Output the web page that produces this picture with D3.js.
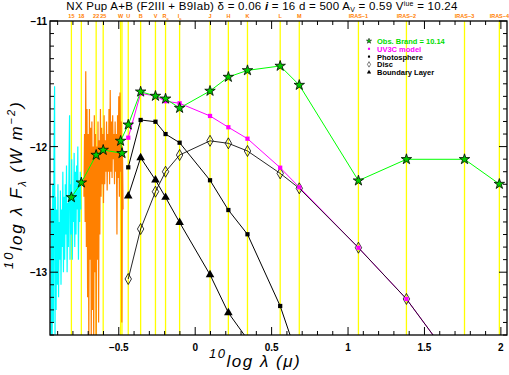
<!DOCTYPE html>
<html lang="en">
<head>
  <meta charset="UTF-8">
  <title>NX Pup SED</title>
  <script src="https://d3js.org/d3.v7.min.js"></script>
  <style>
    body { margin: 0; background: #fff; }
    svg { display: block; }
    text { font-family: "Liberation Sans", Arial, sans-serif; }
  </style>
</head>
<body>
  <svg id="chart" width="509" height="375"></svg>

  <script>
    // photometric bands (log lambda in micron), "" = line without label
    const bandNames = ["15", "18", "22", "25", "W", "", "U", "B", "V", "Rc", "Ic", "J", "H", "K", "L", "M", "IRAS−1", "IRAS−2", "IRAS−3", "IRAS−4"];
    const bandLogL = [-0.810, -0.745, -0.648, -0.602, -0.488, -0.479, -0.438, -0.357, -0.260, -0.194, -0.102, 0.097, 0.217, 0.342, 0.556, 0.681, 1.068, 1.382, 1.762, 1.990];

    // observed photometry (order as connected)
    const obsLogL = [-0.810, -0.745, -0.648, -0.602, -0.479, -0.488, -0.438, -0.357, -0.260, -0.194, -0.102, 0.097, 0.217, 0.342, 0.556, 0.681, 1.068, 1.382, 1.762, 1.990];
    const obsFlux = [-12.404, -12.287, -12.067, -12.027, -12.053, -11.955, -11.826, -11.563, -11.597, -11.619, -11.693, -11.557, -11.446, -11.393, -11.358, -11.510, -12.271, -12.101, -12.101, -12.298];

    // model components
    const modelLogL = [-0.438, -0.357, -0.260, -0.194, -0.102, 0.097, 0.217, 0.342, 0.556, 0.681, 1.068, 1.382, 1.762, 1.990];
    const uv3cFlux = [-11.929, -11.576, -11.597, -11.639, -11.655, -11.756, -11.846, -11.937, -12.168, -12.324, -12.805, -13.213, -13.84, -14.2];
    const discFlux = [-13.054, -12.656, -12.359, -12.200, -12.067, -11.954, -11.974, -12.035, -12.213, -12.332, -12.805, -13.213, -13.84, -14.2];
    const photFlux = [-12.165, -11.788, -11.802, -11.900, -11.969, -12.268, -12.505, -12.698, -13.269, -13.715];
    const blFlux = [-12.393, -12.088, -12.266, -12.404, -12.604, -13.020, -13.323, -13.535];

    // IUE short wavelength spectrum
    const cyanLogL = [-0.944, -0.940, -0.936, -0.932, -0.928, -0.924, -0.920, -0.917, -0.914, -0.910, -0.906, -0.902, -0.898, -0.894, -0.890, -0.886, -0.882, -0.878, -0.874, -0.870, -0.866, -0.862, -0.858, -0.854, -0.850, -0.846, -0.842, -0.838, -0.834, -0.830, -0.826, -0.822, -0.819, -0.816, -0.812, -0.808, -0.804, -0.800, -0.796, -0.792, -0.788, -0.784, -0.780, -0.776, -0.772, -0.768, -0.764, -0.760, -0.756, -0.752, -0.748];
    const cyanFlux = [-13.6, -12.5, -13.6, -12.3, -13.4, -12.1, -11.52, -13.5, -12.4, -13.3, -12.5, -13.1, -12.3, -13.2, -12.6, -12.9, -12.35, -13.1, -12.5, -12.8, -12.2, -13.0, -12.4, -12.9, -12.3, -12.7, -12.15, -13.0, -12.45, -12.8, -12.2, -11.75, -12.9, -12.3, -12.7, -12.1, -12.9, -12.4, -12.6, -12.05, -12.8, -12.2, -12.7, -12.15, -12.5, -12.0, -12.9, -12.3, -12.6, -12.2, -12.5];

    // IUE long wavelength spectrum
    const orangeLogL = [-0.728, -0.724, -0.720, -0.716, -0.712, -0.708, -0.704, -0.700, -0.696, -0.692, -0.688, -0.684, -0.680, -0.676, -0.672, -0.668, -0.664, -0.660, -0.656, -0.652, -0.648, -0.644, -0.640, -0.636, -0.632, -0.628, -0.624, -0.620, -0.616, -0.612, -0.608, -0.604, -0.600, -0.596, -0.592, -0.588, -0.584, -0.580, -0.576, -0.572, -0.568, -0.564, -0.560, -0.556, -0.552, -0.548, -0.544, -0.540, -0.536, -0.532, -0.528, -0.524, -0.520, -0.516, -0.512, -0.508, -0.504, -0.500, -0.496, -0.492, -0.488, -0.484, -0.480, -0.476, -0.472];
    const orangeFlux = [-12.4, -11.9, -12.6, -11.4, -12.8, -11.7, -13.2, -11.9, -13.6, -11.7, -12.9, -11.85, -13.6, -11.8, -13.3, -12.0, -13.6, -11.75, -13.0, -11.9, -13.6, -12.0, -12.9, -11.8, -13.4, -11.95, -12.7, -11.7, -12.4, -11.85, -12.3, -11.9, -12.45, -11.75, -12.3, -11.95, -12.2, -11.8, -12.35, -11.9, -12.2, -11.7, -12.3, -11.55, -12.2, -11.8, -12.25, -11.75, -12.1, -11.9, -12.3, -11.8, -12.2, -11.9, -12.7, -11.75, -12.25, -11.6, -12.4, -11.57, -12.2, -11.8, -13.4, -12.0, -12.5];

    const xMajor = [-0.5, 0, 0.5, 1, 1.5, 2];
    const yMajor = [-13, -12, -11];

    const pL = 50, pR = 507, pT = 21, pB = 335;
    const x = d3.scaleLinear().domain([-0.95, 2.04]).range([pL, pR]);
    const y = d3.scaleLinear().domain([-13.5, -11]).range([pB, pT]);

    const svg = d3.select("#chart");

    svg.append("defs").append("clipPath").attr("id", "clip")
      .append("rect").attr("x", pL).attr("y", pT).attr("width", pR - pL).attr("height", pB - pT);

    const plot = svg.append("g").attr("clip-path", "url(#clip)");

    // band lines
    plot.selectAll(".band")
      .data(bandLogL)
      .enter().append("line")
      .attr("x1", d => x(d)).attr("x2", d => x(d))
      .attr("y1", pT).attr("y2", pB)
      .attr("stroke", "#ffff00").attr("stroke-width", 1.3);

    const line = d3.line().x(d => x(d[0])).y(d => y(d[1]));
    const zip = (a, b) => b.map((v, i) => [a[i], v]);

    // spectra
    plot.append("path").attr("d", line(zip(cyanLogL, cyanFlux)))
      .attr("fill", "none").attr("stroke", "#00ffff").attr("stroke-width", 1.2);
    plot.append("path").attr("d", line(zip(orangeLogL, orangeFlux)))
      .attr("fill", "none").attr("stroke", "#ff8000").attr("stroke-width", 1.2);

    // model lines
    plot.append("path").attr("d", line(zip(modelLogL, uv3cFlux)))
      .attr("fill", "none").attr("stroke", "#ff00ff").attr("stroke-width", 1);
    plot.append("path").attr("d", line(zip(modelLogL, photFlux)))
      .attr("fill", "none").attr("stroke", "#000").attr("stroke-width", 1);
    plot.append("path").attr("d", line(zip(modelLogL, discFlux)))
      .attr("fill", "none").attr("stroke", "#000").attr("stroke-width", 1).attr("stroke-opacity", 0.85);
    plot.append("path").attr("d", line(zip(modelLogL, blFlux)))
      .attr("fill", "none").attr("stroke", "#000").attr("stroke-width", 1);
    plot.append("path").attr("d", line(zip(obsLogL, obsFlux)))
      .attr("fill", "none").attr("stroke", "#00ff00").attr("stroke-width", 1);

    // markers
    const sq = d3.symbol().type(d3.symbolSquare).size(18)();
    const tri = d3.symbol().type(d3.symbolTriangle).size(32)();
    const star = d3.symbol().type(d3.symbolStar).size(34)();
    const diamond = "M0,-5.5L3.2,0L0,5.5L-3.2,0Z";

    function marks(xs, ys, path, fill, stroke) {
      plot.append("g").selectAll("path")
        .data(zip(xs, ys))
        .enter().append("path")
        .attr("d", path)
        .attr("transform", d => `translate(${x(d[0])},${y(d[1])})`)
        .attr("fill", fill).attr("stroke", stroke).attr("stroke-width", 0.8);
    }
    marks(modelLogL, discFlux, diamond, "none", "#000");
    marks(modelLogL, photFlux, sq, "#000", "none");
    marks(modelLogL, blFlux, tri, "#000", "none");
    marks(modelLogL, uv3cFlux, sq, "#ff00ff", "none");
    marks(obsLogL, obsFlux, star, "#00cc00", "#000");

    // frame and ticks
    svg.append("rect").attr("x", pL).attr("y", pT).attr("width", pR - pL).attr("height", pB - pT)
      .attr("fill", "none").attr("stroke", "#000").attr("stroke-width", 1.3);

    const xMinor = d3.range(-9, 21).map(d => d / 10);
    const yMinor = d3.range(-135, -109).map(d => d / 10);
    const ticks = svg.append("g").attr("stroke", "#000").attr("stroke-width", 1);
    xMinor.forEach(v => {
      const len = xMajor.some(m => Math.abs(m - v) < 1e-6) ? 8 : 4;
      ticks.append("line").attr("x1", x(v)).attr("x2", x(v)).attr("y1", pB).attr("y2", pB - len);
      ticks.append("line").attr("x1", x(v)).attr("x2", x(v)).attr("y1", pT).attr("y2", pT + len);
    });
    yMinor.forEach(v => {
      const len = yMajor.some(m => Math.abs(m - v) < 1e-6) ? 8 : 4;
      ticks.append("line").attr("x1", pL).attr("x2", pL + len).attr("y1", y(v)).attr("y2", y(v));
      ticks.append("line").attr("x1", pR).attr("x2", pR - len).attr("y1", y(v)).attr("y2", y(v));
    });

    const fmt = v => (v < 0 ? "−" : "") + Math.abs(v);
    svg.append("g").selectAll("text").data(xMajor).enter().append("text")
      .attr("x", d => x(d)).attr("y", 351)
      .attr("text-anchor", "middle").attr("font-size", 10).attr("font-weight", "bold")
      .text(fmt);
    svg.append("g").selectAll("text").data(yMajor).enter().append("text")
      .attr("x", 47).attr("y", d => y(d) + 4)
      .attr("text-anchor", "end").attr("font-size", 10).attr("font-weight", "bold")
      .text(fmt);

    // band labels
    const bandLab = svg.append("g").attr("fill", "#ff8000").attr("font-size", 5.5).attr("font-weight", "bold");
    bandNames.forEach((n, i) => {
      if (!n) return;
      const t = bandLab.append("text").attr("x", x(bandLogL[i])).attr("y", 18).attr("text-anchor", "middle");
      if (n === "Rc" || n === "Ic") {
        t.append("tspan").text(n[0]);
        t.append("tspan").attr("font-size", 4).attr("dy", 2).text("c");
      } else {
        t.text(n);
      }
    });

    // title
    const title = svg.append("text").attr("x", 262).attr("y", 10).attr("text-anchor", "middle")
      .attr("font-family", "'DejaVu Sans', sans-serif").attr("font-size", 11.5).attr("letter-spacing", 0.25);
    title.append("tspan").text("NX Pup A+B (F2III + B9Iab) δ = 0.06 ");
    title.append("tspan").attr("font-weight", "bold").attr("font-style", "italic").text("i");
    title.append("tspan").text(" = 16 d = 500 A");
    title.append("tspan").attr("font-size", 7).attr("dy", 2).text("V");
    title.append("tspan").attr("dy", -2).text(" = 0.59 V");
    title.append("tspan").attr("font-size", 7).attr("dy", -4).text("iue");
    title.append("tspan").attr("dy", 4).text(" = 10.24");

    // axis labels
    const axFont = "'DejaVu Sans', sans-serif";
    const xl = svg.append("text").attr("x", 209).attr("y", 367).attr("font-family", axFont)
      .attr("font-style", "italic").attr("font-size", 17).attr("letter-spacing", 1.5);
    xl.append("tspan").attr("dy", -9).attr("font-size", 13).text("10");
    xl.append("tspan").attr("dy", 9).text("log");
    xl.append("tspan").text(" λ (μ)");

    const yl = svg.append("text").attr("transform", "translate(22,269) rotate(-90)")
      .attr("font-family", axFont).attr("font-style", "italic").attr("font-size", 17).attr("letter-spacing", 1.9);
    yl.append("tspan").attr("dy", -9).attr("font-size", 13).text("10");
    yl.append("tspan").attr("dy", 9).text("log");
    yl.append("tspan").text(" λ F");
    yl.append("tspan").attr("font-size", 11).attr("dy", 4).text("λ");
    yl.append("tspan").attr("dy", -4).text(" (W m");
    yl.append("tspan").attr("font-size", 11).attr("dy", -7).text("−2");
    yl.append("tspan").attr("dy", 7).text(")");

    // legend
    const legItems = [
      { label: "Obs. Brand = 10.14", color: "#00dd00", sym: star, fill: "#00cc00", stroke: "#000" },
      { label: "UV3C model", color: "#ff00ff", sym: sq, fill: "#ff00ff", stroke: "none" },
      { label: "Photosphere", color: "#000", sym: sq, fill: "#000", stroke: "none" },
      { label: "Disc", color: "#000", sym: diamond, fill: "none", stroke: "#000" },
      { label: "Boundary Layer", color: "#000", sym: tri, fill: "#000", stroke: "none" }
    ];
    const leg = svg.append("g");
    legItems.forEach((d, i) => {
      const yy = 41 + i * 7.8;
      leg.append("path").attr("d", d.sym)
        .attr("transform", `translate(369,${yy}) scale(0.5)`)
        .attr("fill", d.fill).attr("stroke", d.stroke).attr("stroke-width", 1);
      leg.append("text").attr("x", 377).attr("y", yy + 3)
        .attr("font-size", 7.5).attr("font-weight", "bold").attr("fill", d.color).text(d.label);
    });
  </script>
</body>
</html>
